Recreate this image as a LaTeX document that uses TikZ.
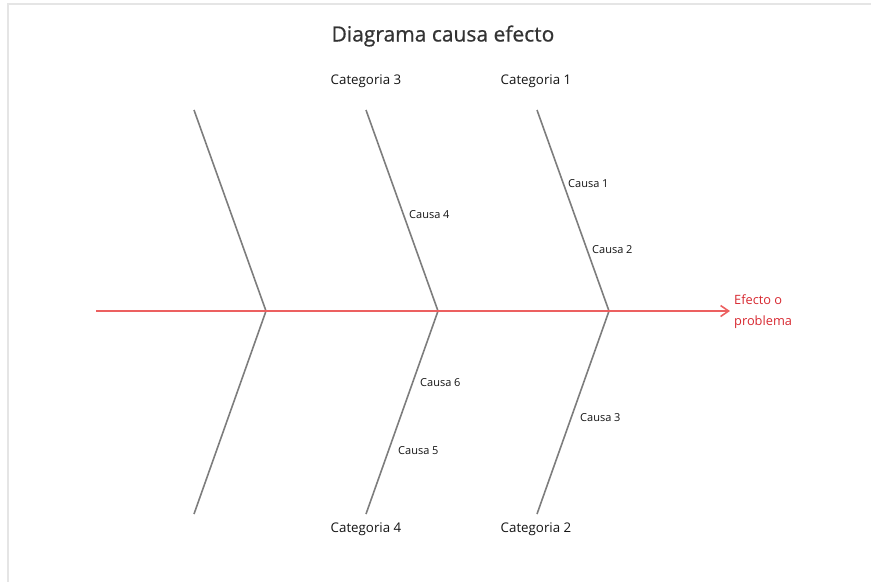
\documentclass[tikz,border=0pt]{standalone}
\usepackage{fontspec}
\setmainfont{Open Sans}
\newfontfamily\titlefont[FakeBold=0.7]{Open Sans}
\usetikzlibrary{arrows.meta}
\definecolor{spineRed}{RGB}{236,96,96}
\definecolor{effectRed}{RGB}{215,40,48}
\definecolor{boneGray}{RGB}{125,125,125}
\definecolor{labelInk}{RGB}{20,20,20}

\begin{document}
\begin{tikzpicture}[x=1pt,y=-1pt,
    bone/.style={draw=boneGray, line width=1.6pt},
    spine/.style={draw=spineRed, line width=1.6pt, -{Straight Barb[length=8pt,width=11pt]}},
    catlabel/.style={font=\fontsize{13.3}{16}\selectfont, text=labelInk, inner sep=1pt},
    causelabel/.style={font=\fontsize{11}{13}\selectfont, text=labelInk, anchor=west, inner sep=0pt}]
    \def\spineY{311}
    \def\boneRun{72}
    \def\boneRise{201}
    \useasboundingbox (0,0) rectangle (871,582);
    \draw[color=black!10, line width=1.5pt] (8,582) -- (8,4) -- (871,4);
    \node[font=\titlefont\fontsize{21}{25}\selectfont, text=black!80] (title) at (443,36) {Diagrama causa efecto};
    % bones
    \foreach \j/\x in {a/266,b/438,c/609} {
      \coordinate (j\j) at (\x,\spineY);
      \coordinate (u\j) at (\x-\boneRun,\spineY-\boneRise);
      \coordinate (l\j) at (\x-\boneRun,\spineY+\boneRise+2);
      \draw[bone] (u\j) -- (j\j) -- (l\j);
    }
    % spine
    \coordinate (tail) at (96,\spineY);
    \coordinate (head) at (730,\spineY);
    \draw[spine] (tail) -- (head);
    \node[anchor=west, align=left, text=effectRed, inner sep=0pt,
          font=\fontsize{12.8}{21}\selectfont] (effect) at (734,\spineY+1) {Efecto o\\problema};
    % categories
    \node[catlabel] (cat3) at (366,81) {Categoria 3};
    \node[catlabel] (cat1) at (536,81) {Categoria 1};
    \node[catlabel] (cat4) at (366,529) {Categoria 4};
    \node[catlabel] (cat2) at (536,529) {Categoria 2};
    % causes
    \node[causelabel] (cause1) at (568,184) {Causa 1};
    \node[causelabel] (cause2) at (592,250) {Causa 2};
    \node[causelabel] (cause3) at (580,418) {Causa 3};
    \node[causelabel] (cause4) at (409,215) {Causa 4};
    \node[causelabel] (cause5) at (398,451) {Causa 5};
    \node[causelabel] (cause6) at (420,383) {Causa 6};
\end{tikzpicture}
\end{document}
